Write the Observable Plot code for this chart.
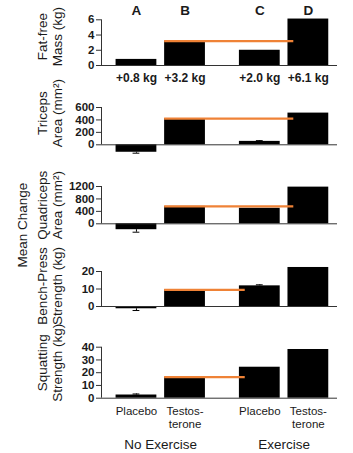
<!DOCTYPE html>
<html><head><meta charset="utf-8">
<script src="https://cdn.jsdelivr.net/npm/d3@7"></script>
<script src="https://cdn.jsdelivr.net/npm/@observablehq/plot@0.6"></script>
<style>
body{margin:0;background:#fff;}
#chart{position:relative;width:353px;height:453px;font-family:"Liberation Sans",Arial,sans-serif;background:#fff;}
#chart svg{position:absolute;left:0;overflow:visible;background:transparent;}
</style></head><body><div id="chart"></div>
<script>
// ---- data ----
const groups = ["A", "B", "C", "D"];
const treatments = ["Placebo", "Testos-\nterone", "Placebo", "Testos-\nterone"];
const exerciseGroups = ["No Exercise", "Exercise"];
const exerciseOf = [0, 0, 1, 1];
const treatmentSlot = [0, 1, 0, 1];
const fatFreeLabels = ["+0.8 kg", "+3.2 kg", "+2.0 kg", "+6.1 kg"];

const fatFree = [0.8, 3.2, 2.0, 6.1];
const triceps = [-120, 420, 55, 510];
const quadriceps = [-190, 560, 500, 1180];
const bench = [-1.3, 9.5, 11.8, 22.3];
const squat = [2.5, 16.5, 24.3, 38.2];

const fatFreeErr = [0, 0, 0, 0];
const tricepsErr = [15, 0, 12, 0];
const quadricepsErr = [80, 0, 0, 0];
const benchErr = [1.0, 0, 0.6, 0];
const squatErr = [0.8, 0, 0, 0];

const fatFreeTicks = [0, 2, 4, 6];
const tricepsTicks = [0, 200, 400, 600];
const quadricepsTicks = [0, 400, 800, 1200];
const benchTicks = [0, 10, 20];
const squatTicks = [0, 10, 20, 30, 40];

const titles = ["Fat-free\nMass (kg)", "Triceps\nArea (mm²)", "Quadriceps\nArea (mm²)", "Bench-Press\nStrength (kg)", "Squatting\nStrength (kg)"];
const sharedTitle = "Mean Change";
const referenceGroup = "B";
const referenceEnds = ["D", "D", "D", "C", "C"];

// ---- layout ----
const groupShift = 2.54, half = 0.42, xDomain = [-0.72, 4.14];
const pos = i => treatmentSlot[i] + exerciseOf[i] * groupShift;
const idx = groups.map((_, i) => i);
const orange = "#ef8236";
const ink = "#1a1a1a";

const panels = [
  {values: fatFree, err: fatFreeErr, ticks: fatFreeTicks, top: 0, height: 90, mt: 19.3, mb: 25, tdy: -6},
  {values: triceps, err: tricepsErr, ticks: tricepsTicks, top: 90, height: 70, mt: 17, mb: 15.7, tdy: -13},
  {values: quadriceps, err: quadricepsErr, ticks: quadricepsTicks, top: 160, height: 80, mt: 26, mb: 16.7, tdy: 0},
  {values: bench, err: benchErr, ticks: benchTicks, top: 240, height: 80, mt: 31, mb: 14, tdy: -3},
  {values: squat, err: squatErr, ticks: squatTicks, top: 320, height: 133, mt: 26.7, mb: 55.3, tdy: -10}
];

const chart = document.getElementById("chart");
panels.forEach((p, k) => {
  const v = p.values;
  const ymax = p.ticks[p.ticks.length - 1];
  const bIdx = groups.indexOf(referenceGroup);
  const eIdx = groups.indexOf(referenceEnds[k]);
  const errIdx = idx.filter(i => p.err[i] > 0);
  const tip = i => v[i] + Math.sign(v[i]) * p.err[i];
  const marks = [
    Plot.rect(idx, {x1: i => pos(i) - half, x2: i => pos(i) + half, y1: 0, y2: i => v[i], fill: "#000"}),
    Plot.ruleX(errIdx, {x: i => pos(i), y1: i => v[i], y2: tip, stroke: "#000", strokeWidth: 1}),
    Plot.ruleY(errIdx, {y: tip, x1: i => pos(i) - 0.07, x2: i => pos(i) + 0.07, stroke: "#000", strokeWidth: 1}),
    Plot.ruleY([0], {stroke: "#333", strokeWidth: 1}),
    Plot.ruleX([xDomain[0]], {y1: 0, y2: ymax, stroke: "#333", strokeWidth: 1}),
    Plot.axisY(p.ticks, {tickSize: 5, tickPadding: 2, tickFormat: d => String(d), stroke: "#333", fill: ink, fontWeight: "bold", fontSize: 11.5, label: null}),
    Plot.ruleY([v[bIdx]], {x1: pos(bIdx) - half, x2: pos(eIdx) - 0.3, stroke: orange, strokeWidth: 2.2}),
    Plot.text([titles[k]], {frameAnchor: "left", textAnchor: "middle", lineAnchor: "middle", rotate: -90, dx: -51.5, dy: p.tdy, fontSize: 13.5, lineHeight: 1.12, fill: ink})
  ];
  if (k === 0) {
    marks.push(Plot.text(idx, {x: i => pos(i), frameAnchor: "top", lineAnchor: "middle", dy: -9.3, text: i => groups[i], fontWeight: "bold", fontSize: 13.5, fill: ink}));
    marks.push(Plot.text(idx, {x: i => pos(i), frameAnchor: "bottom", lineAnchor: "middle", dy: 13, text: i => fatFreeLabels[i], fontWeight: "bold", fontSize: 12, fill: ink}));
  }
  if (k === 2) {
    marks.push(Plot.text([sharedTitle], {frameAnchor: "left", textAnchor: "middle", lineAnchor: "middle", rotate: -90, dx: -79, dy: 20, fontSize: 13.5, fill: ink}));
  }
  if (k === 4) {
    marks.push(Plot.text(idx, {x: i => pos(i), frameAnchor: "bottom", lineAnchor: "top", dy: 7, text: i => treatments[i], fontSize: 11.5, lineHeight: 1.14, fill: ink}));
    marks.push(Plot.text(exerciseGroups, {x: (d, j) => (pos(2 * j) + pos(2 * j + 1)) / 2, frameAnchor: "bottom", lineAnchor: "middle", dy: 46.3, fontSize: 13.5, fill: ink}));
  }
  const svg = Plot.plot({
    width: 353, height: p.height,
    marginLeft: 101, marginRight: 16, marginTop: p.mt, marginBottom: p.mb,
    x: {type: "linear", domain: xDomain, axis: null},
    y: {domain: [0, ymax], axis: null},
    style: {fontFamily: '"Liberation Sans", Arial, sans-serif', background: "transparent", overflow: "visible"},
    marks
  });
  svg.style.top = p.top + "px";
  chart.appendChild(svg);
});
</script></body></html>
